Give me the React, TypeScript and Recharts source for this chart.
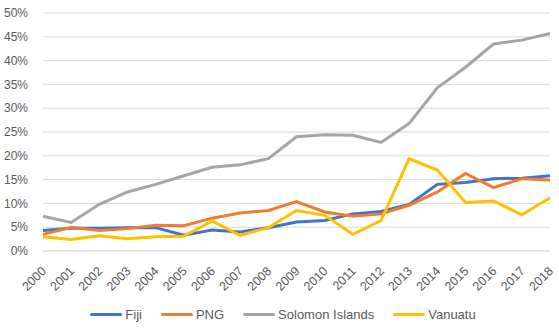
import { LineChart, Line, XAxis, YAxis, CartesianGrid, Legend } from 'recharts'

if (typeof document !== 'undefined') document.body.style.margin = '0'

const YEARS = [
  '2000', '2001', '2002', '2003', '2004', '2005', '2006', '2007', '2008', '2009',
  '2010', '2011', '2012', '2013', '2014', '2015', '2016', '2017', '2018',
]

const FIJI = [4.3, 4.8, 4.8, 4.9, 4.9, 3.3, 4.4, 4.0, 4.9, 6.1, 6.4, 7.8, 8.3, 9.8, 14.0, 14.4, 15.2, 15.3, 15.8]
const PNG = [3.5, 5.0, 4.3, 4.7, 5.4, 5.3, 6.9, 8.0, 8.5, 10.4, 8.2, 7.3, 7.8, 9.6, 12.4, 16.3, 13.3, 15.2, 14.9]
const SOLOMON = [7.3, 6.0, 9.8, 12.4, 14.0, 15.8, 17.6, 18.1, 19.4, 24.0, 24.4, 24.3, 22.8, 26.8, 34.3, 38.6, 43.5, 44.3, 45.7]
const VANUATU = [3.0, 2.4, 3.2, 2.6, 3.0, 3.1, 6.3, 3.3, 4.9, 8.5, 7.5, 3.5, 6.4, 19.4, 17.0, 10.2, 10.5, 7.6, 11.2]

const Y_TICKS = [0, 5, 10, 15, 20, 25, 30, 35, 40, 45, 50]

const SERIES = [
  { key: 'Fiji', color: '#4472C4' },
  { key: 'PNG', color: '#ED7D31' },
  { key: 'Solomon Islands', color: '#A5A5A5' },
  { key: 'Vanuatu', color: '#FFC000' },
]

const data = YEARS.map((year, i) => ({
  year,
  Fiji: FIJI[i],
  PNG: PNG[i],
  'Solomon Islands': SOLOMON[i],
  Vanuatu: VANUATU[i],
}))

const FONT = '"Liberation Sans", Arial, sans-serif'
const TEXT = '#595959'

function YearTick({ x, y, payload }: any) {
  const ax = x + 1
  const ay = y + 10
  return (
    <text
      x={ax}
      y={ay}
      textAnchor="end"
      dominantBaseline="central"
      transform={`rotate(-45, ${ax}, ${ay})`}
      fill={TEXT}
      fontSize={12.5}
      fontFamily={FONT}
    >
      {payload.value}
    </text>
  )
}

function LegendContent() {
  return (
    <div style={{ display: 'flex', justifyContent: 'center', gap: 19, fontFamily: FONT, fontSize: 13, color: TEXT, paddingLeft: 7 }}>
      {SERIES.map((s) => (
        <span key={s.key} style={{ display: 'flex', alignItems: 'center', gap: 3 }}>
          <span style={{ display: 'inline-block', width: 32, height: 3, background: s.color, borderRadius: 2 }} />
          {s.key}
        </span>
      ))}
    </div>
  )
}

export default function App() {
  return (
    <div style={{ width: 559, height: 329, background: '#fff' }}>
      <LineChart width={559} height={329} data={data} margin={{ top: 13, right: 9, bottom: 0, left: 0 }}>
        <CartesianGrid vertical={false} stroke="#D9D9D9" />
        <XAxis
          dataKey="year"
          interval={0}
          height={50}
          tickLine={false}
          axisLine={{ stroke: '#D9D9D9' }}
          tick={<YearTick />}
        />
        <YAxis
          domain={[0, 50]}
          ticks={Y_TICKS}
          width={43}
          axisLine={false}
          tickLine={false}
          tickMargin={9}
          tickFormatter={(v) => `${v}%`}
          tick={{ fill: TEXT, fontSize: 12, fontFamily: FONT }}
        />
        <Legend
          verticalAlign="bottom"
          height={28}
          content={<LegendContent />}
          wrapperStyle={{ top: 307, bottom: 'auto', left: 0, width: 559 }}
        />
        {SERIES.map((s) => (
          <Line
            key={s.key}
            type="linear"
            dataKey={s.key}
            stroke={s.color}
            strokeWidth={3}
            dot={false}
            isAnimationActive={false}
          />
        ))}
      </LineChart>
    </div>
  )
}
